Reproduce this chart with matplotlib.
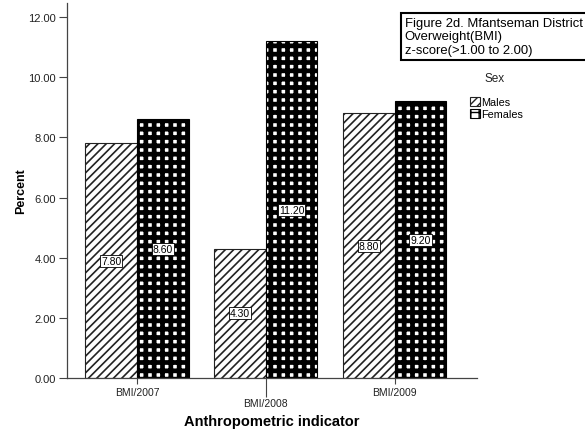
import matplotlib
matplotlib.use("Agg")
import matplotlib.pyplot as plt
import numpy as np

plt.rcParams['font.family'] = ['Liberation Sans', 'DejaVu Sans']

categories = ["BMI/2007", "BMI/2008", "BMI/2009"]
males = [7.80, 4.30, 8.80]
females = [8.60, 11.20, 9.20]
yticks = [0, 2, 4, 6, 8, 10, 12]

fig = plt.figure(figsize=(5.85, 4.35), dpi=100)
ax = fig.add_axes([0.1145, 0.1287, 0.7005, 0.862])

x = np.arange(len(categories))
w = 0.4
bm = ax.bar(x - w/2, males, w, facecolor='white', edgecolor='#222222',
            hatch='////', linewidth=0.8, label='Males')
bf = ax.bar(x + w/2, females, w, facecolor='white', edgecolor='black',
            hatch='++', linewidth=0.8, label='Females')
for p in bm:
    if hasattr(p, 'set_hatch_linewidth'):
        p.set_hatch_linewidth(1.2)
for p in bf:
    if hasattr(p, 'set_hatch_linewidth'):
        p.set_hatch_linewidth(3.4)

for xs, vals in ((x - w/2, males), (x + w/2, females)):
    for xi, v in zip(xs, vals):
        ax.text(xi, v/2, f"{v:.2f}", ha='center', va='center', fontsize=7.5,
                bbox=dict(boxstyle='square,pad=0.1', facecolor='white',
                          edgecolor='black', linewidth=0.6))

ax.set_xlim(-0.543, 2.636)
ax.set_ylim(0, 12.47)
ax.set_yticks(yticks)
ax.set_yticklabels([f"{t:.2f}" for t in yticks], fontsize=8, color='#222222')
# staggered labels: even categories as major ticks, odd ones as long minor ticks
ax.set_xticks(x[::2])
ax.set_xticklabels(categories[::2], fontsize=7.5, color='#222222')
ax.set_xticks(x[1::2], minor=True)
ax.set_xticklabels(categories[1::2], minor=True, fontsize=7.5, color='#222222')
ax.tick_params(axis='y', length=6, width=0.8, color='#444444', pad=2)
ax.tick_params(axis='x', which='major', length=4.5, width=0.8, color='#444444', pad=2)
ax.tick_params(axis='x', which='minor', length=13.5, width=0.8, color='#444444', pad=1)

for s in ('top', 'right'):
    ax.spines[s].set_visible(False)
for s in ('left', 'bottom'):
    ax.spines[s].set_color('#444444')
    ax.spines[s].set_linewidth(0.9)

ax.set_ylabel("Percent", fontsize=9, fontweight='bold', labelpad=1)
ax.set_xlabel("Anthropometric indicator", fontsize=10.5, fontweight='bold', labelpad=4)

fig.text(0.692, 0.9586, "Figure 2d. Mfantseman District\nOverweight(BMI)\nz-score(>1.00 to 2.00)",
         fontsize=9.4, va='top', ha='left', linespacing=1.15,
         bbox=dict(boxstyle='square,pad=0.3', facecolor='white', edgecolor='black', linewidth=1.5))

fig.text(0.846, 0.818, "Sex", fontsize=8.5, ha='center', va='center', color='#222222')
leg = fig.legend(handles=[bm, bf], labels=['Males', 'Females'],
                 loc='upper left', bbox_to_anchor=(0.792, 0.79), frameon=False,
                 fontsize=7.8, handlelength=0.9, handleheight=0.9,
                 handletextpad=0.1, labelspacing=0.15, borderpad=0.1)

fig.savefig("out.png", dpi=100)
